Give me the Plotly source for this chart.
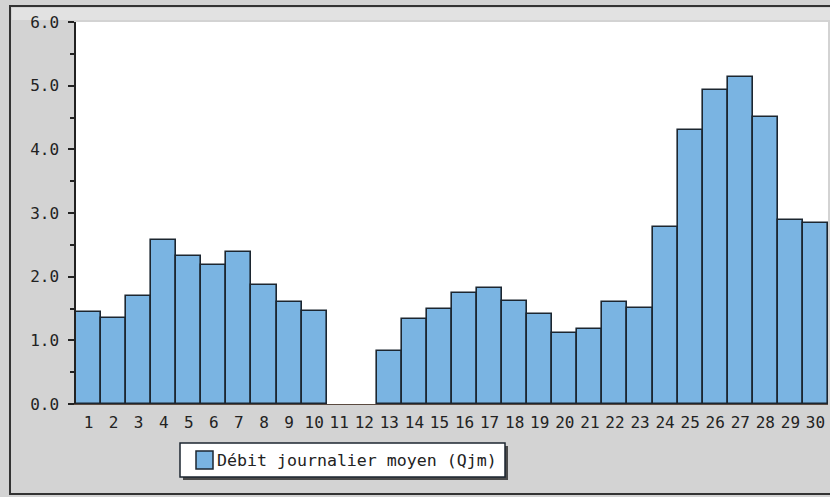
import plotly.graph_objects as go

days = [str(d) for d in range(1, 31)]
debit = [1.44, 1.35, 1.70, 2.57, 2.32, 2.18, 2.39, 1.87, 1.60, 1.46,
         None, None, 0.83, 1.33, 1.49, 1.74, 1.82, 1.62, 1.41, 1.11,
         1.18, 1.60, 1.51, 2.78, 4.30, 4.93, 5.13, 4.51, 2.89, 2.84]
y_ticks = [0, 1, 2, 3, 4, 5, 6]
y_labels = ["0.0", "1.0", "2.0", "3.0", "4.0", "5.0", "6.0"]
series_name = "Débit journalier moyen (Qjm)"

W, H = 830, 497
L, R, T, B = 76, 2, 22, 93
pw, ph = W - L - R, H - T - B


def px(x):
    return (x - L) / pw


def py(y):
    return (H - B - y) / ph


mono = "DejaVu Sans Mono"
bar_fill = "#7ab4e2"
ink = "#1c2630"

fig = go.Figure()
fig.add_trace(go.Bar(
    x=days, y=debit,
    name=series_name,
    marker=dict(color=bar_fill, line=dict(color=ink, width=1.6)),
    showlegend=False,
))

shapes = [
    # outer frame
    dict(type="rect", xref="paper", yref="paper", x0=px(10), x1=px(845), y0=py(494), y1=py(6),
         line=dict(color="#333333", width=2), fillcolor="rgba(0,0,0,0)", layer="below"),
    # top light strip
    dict(type="rect", xref="paper", yref="paper", x0=px(12), x1=px(845), y0=py(20), y1=py(8),
         line=dict(width=0), fillcolor="#e2e2e2", layer="below"),
    # legend shadow
    dict(type="rect", xref="paper", yref="paper", x0=px(183), x1=px(508), y0=py(480), y1=py(446),
         line=dict(width=0), fillcolor="#4a4a4a", layer="below"),
    # legend box
    dict(type="rect", xref="paper", yref="paper", x0=px(180), x1=px(505), y0=py(477), y1=py(443),
         line=dict(color=ink, width=1.5), fillcolor="#ffffff", layer="below"),
    # legend swatch
    dict(type="rect", xref="paper", yref="paper", x0=px(196), x1=px(213), y0=py(469), y1=py(451),
         line=dict(color=ink, width=1.5), fillcolor=bar_fill),
]

annotations = [
    dict(text=series_name, xref="paper", yref="paper", x=px(215), y=py(460),
         xanchor="left", yanchor="middle", showarrow=False,
         font=dict(family=mono, size=16.6, color="#222222")),
]

fig.update_layout(
    width=W, height=H,
    margin=dict(l=L, r=R, t=T, b=B),
    paper_bgcolor="#d3d3d3",
    plot_bgcolor="#ffffff",
    bargap=0,
    font=dict(family=mono, size=16, color="#222222"),
    showlegend=False,
    xaxis=dict(type="category", range=[-0.5, 29.5], showgrid=False,
               ticks="", tickfont=dict(size=16), showline=True, linecolor="#5a4a40",
               linewidth=1, ticklabelstandoff=4),
    yaxis=dict(range=[0, 6], tickvals=y_ticks, ticktext=y_labels, showgrid=False,
               ticks="outside", ticklen=6, tickwidth=1.5, tickcolor="#222222",
               showline=True, linecolor="#222222", linewidth=1.5, zeroline=False,
               minor=dict(dtick=0.5, ticks="outside", ticklen=4, tickcolor="#222222"),
               tickfont=dict(size=16), ticklabelstandoff=6),
    shapes=shapes,
    annotations=annotations,
)

fig.write_html("out.html", config={"displayModeBar": False},
               post_script="document.body.style.margin='0';document.body.style.overflow='hidden';")
